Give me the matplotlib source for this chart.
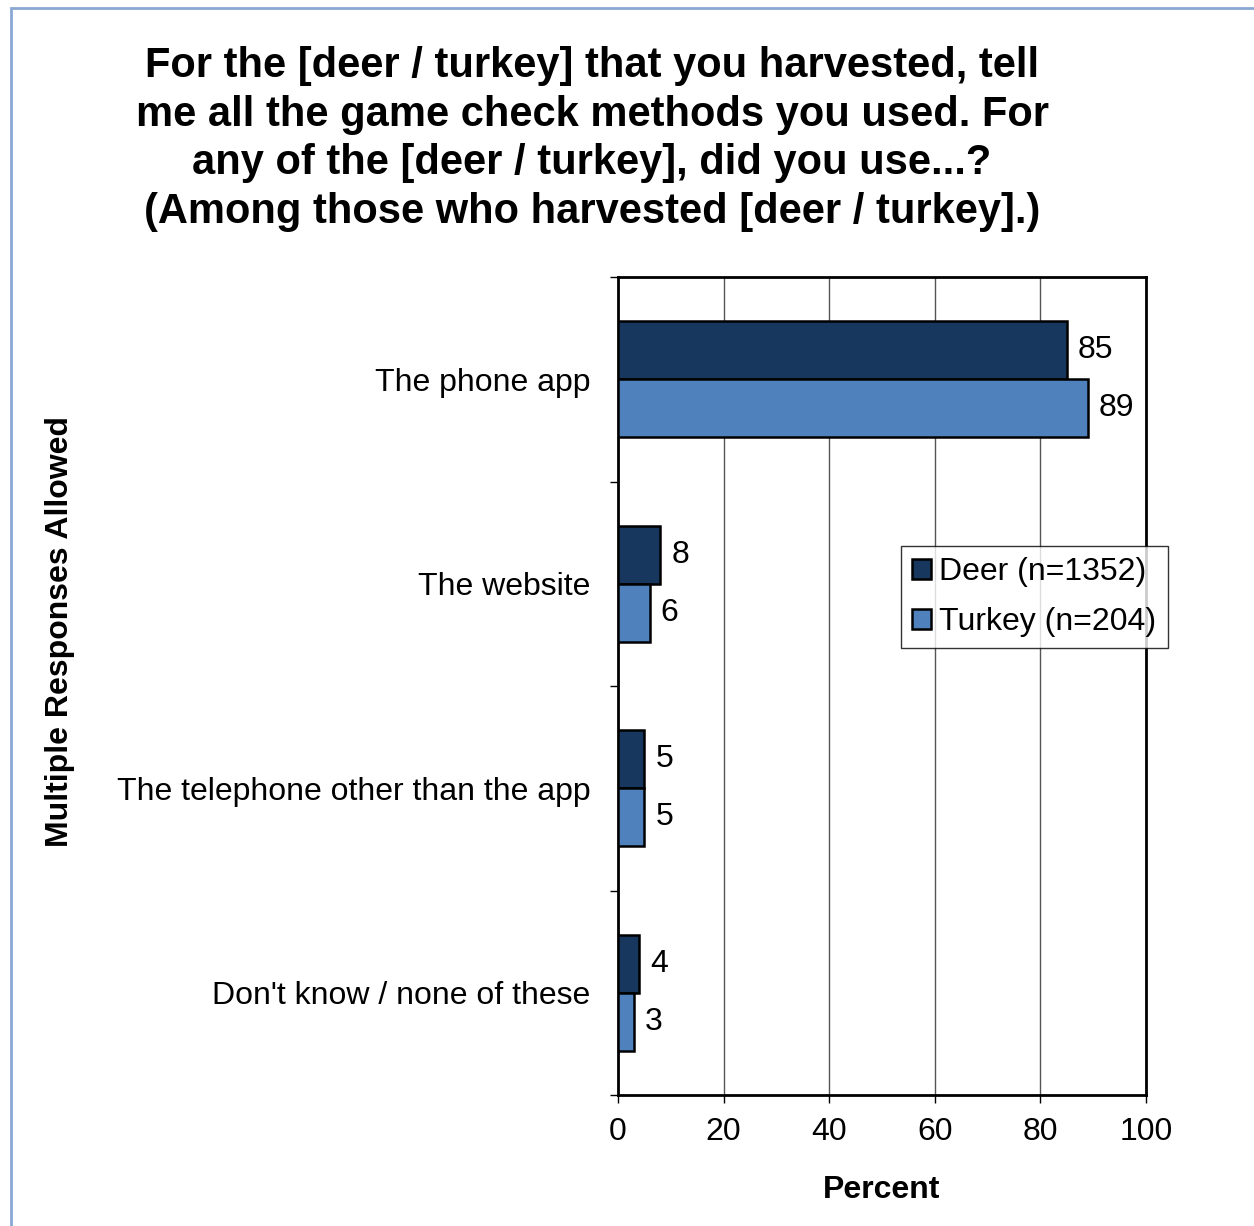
import numpy as np
import matplotlib
matplotlib.use('Agg')
import matplotlib.pyplot as plt
from matplotlib.patches import Rectangle
from matplotlib.ticker import FixedLocator, NullFormatter

plt.rcParams['font.family'] = ['Liberation Sans', 'DejaVu Sans']

categories = ['The phone app', 'The website',
              'The telephone other than the app', "Don't know / none of these"]
deer = [85, 8, 5, 4]
turkey = [89, 6, 5, 3]
series_names = ['Deer (n=1352)', 'Turkey (n=204)']
title = ('For the [deer / turkey] that you harvested, tell\n'
         'me all the game check methods you used. For\n'
         'any of the [deer / turkey], did you use...?\n'
         '(Among those who harvested [deer / turkey].)')

dark = '#17375E'
light = '#4F81BD'
fs = 23

fig = plt.figure(figsize=(12.54, 12.26), dpi=100)
fig.patches.append(Rectangle((10.5 / 1254, -0.1), 1.2, 1 - 7.5 / 1226 + 0.1,
                             transform=fig.transFigure, fill=False,
                             edgecolor='#8aa8d4', linewidth=2))

ax = fig.add_axes([618 / 1254, 1 - 1095 / 1226, 528 / 1254, 818 / 1226])

y = np.arange(len(categories))
h = 0.284
b1 = ax.barh(y - h / 2, deer, height=h, color=dark, edgecolor='black',
             linewidth=1.8, label=series_names[0], zorder=3)
b2 = ax.barh(y + h / 2, turkey, height=h, color=light, edgecolor='black',
             linewidth=1.8, label=series_names[1], zorder=3)
for bars, vals in ((b1, deer), (b2, turkey)):
    for bar, v in zip(bars, vals):
        ax.annotate(str(v), (v, bar.get_y() + bar.get_height() / 2),
                    xytext=(8, 0), textcoords='offset points',
                    ha='left', va='center', fontsize=fs)

ax.set_xlim(0, 100)
ax.set_ylim(len(categories) - 0.5, -0.5)
ax.set_xticks(np.arange(0, 101, 20))
ax.tick_params(axis='x', labelsize=fs, length=6, width=1, pad=10)
ax.xaxis.grid(True, color='#555555', linewidth=1, zorder=0)

# boundary ticks between groups, labels sit at group centres
ax.yaxis.set_major_locator(FixedLocator(np.arange(-0.5, len(categories), 1.0)))
ax.yaxis.set_major_formatter(NullFormatter())
ax.set_yticks(y, minor=True)
ax.set_yticklabels(categories, minor=True)
ax.tick_params(axis='y', which='major', length=6, width=1)
ax.tick_params(axis='y', which='minor', length=0, labelsize=fs, pad=20)

for s in ax.spines.values():
    s.set_linewidth(2)
    s.set_color('black')

ax.set_xlabel('Percent', fontsize=fs, fontweight='bold', labelpad=20)
fig.text(60 / 1254, 1 - 632 / 1226, 'Multiple Responses Allowed', rotation=90,
         ha='center', va='center', fontsize=fs, fontweight='bold')
fig.text(592 / 1254, 1 - 139 / 1226, title, ha='center', va='center',
         fontsize=30, fontweight='bold', linespacing=1.28)

leg = ax.legend(loc='upper left', bbox_to_anchor=(0.536, 0.671),
                fontsize=fs, frameon=True, fancybox=False, edgecolor='black',
                handlelength=0.6, handleheight=0.6, handletextpad=0.25,
                borderpad=0.35, labelspacing=0.62, borderaxespad=0)
leg.get_frame().set_linewidth(1)

fig.savefig('out.png', dpi=100, facecolor='white')
